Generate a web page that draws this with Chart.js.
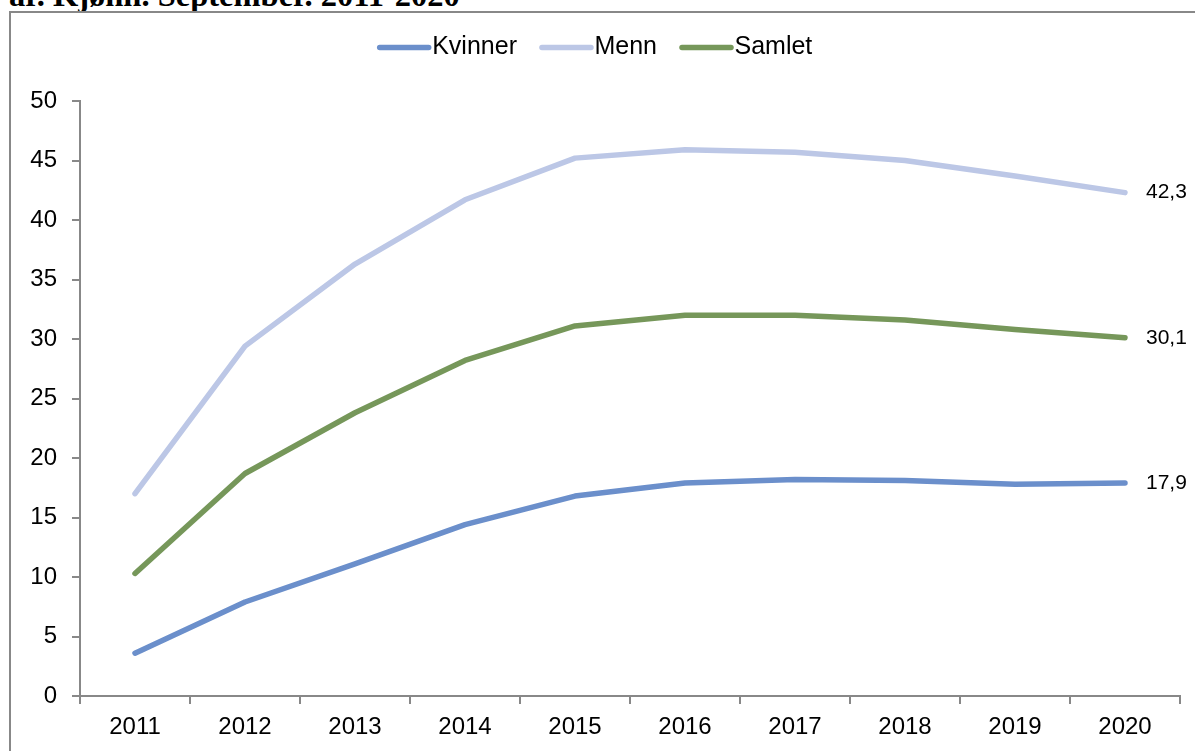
<!DOCTYPE html>
<html>
<head>
<meta charset="utf-8">
<script src="https://cdn.jsdelivr.net/npm/chart.js@4"></script>
<style>
  html, body { margin: 0; padding: 0; background: #fff; overflow: hidden; }
  #title { position: absolute; left: 9px; top: -23px; font: bold 32.5px "Liberation Serif", serif; color: #000; white-space: nowrap; }
  #frame { position: absolute; left: 9px; top: 11px; width: 1300px; height: 900px; border-left: 2px solid #888; border-top: 2px solid #888; }
  #wrap { position: absolute; left: 0; top: 0; width: 1195px; height: 751px; }
</style>
</head>
<body>
<div id="title">ar. Kjønn. September. 2011-2020</div>
<div id="frame"></div>
<div id="wrap"><canvas id="chart"></canvas></div>
<script>
const years = ["2011", "2012", "2013", "2014", "2015", "2016", "2017", "2018", "2019", "2020"];
const kvinner = [3.6, 7.9, 11.1, 14.4, 16.8, 17.9, 18.2, 18.1, 17.8, 17.9];
const menn = [17.0, 29.4, 36.3, 41.7, 45.2, 45.9, 45.7, 45.0, 43.7, 42.3];
const samlet = [10.3, 18.7, 23.8, 28.2, 31.1, 32.0, 32.0, 31.6, 30.8, 30.1];
const yTicks = [0, 5, 10, 15, 20, 25, 30, 35, 40, 45, 50];

const font = "'Liberation Sans', Arial, sans-serif";

// label at the last point of every line
const endLabels = {
  id: "endLabels",
  afterDatasetsDraw(chart) {
    const ctx = chart.ctx;
    ctx.save();
    ctx.font = "21px " + font;
    ctx.fillStyle = "#000";
    ctx.textBaseline = "middle";
    chart.data.datasets.forEach((ds, i) => {
      const pts = chart.getDatasetMeta(i).data;
      const p = pts[pts.length - 1];
      const v = ds.data[ds.data.length - 1];
      ctx.fillText(v.toFixed(1).replace(".", ","), p.x + 21, p.y);
    });
    ctx.restore();
  }
};

// legend keys drawn as short thick lines right next to the text
const legendLines = {
  id: "legendLines",
  afterDraw(chart) {
    const lg = chart.legend;
    const ctx = chart.ctx;
    ctx.save();
    ctx.lineWidth = 5.5;
    ctx.lineCap = "round";
    lg.legendHitBoxes.forEach((box, i) => {
      const y = box.top + box.height / 2;
      ctx.strokeStyle = chart.data.datasets[i].borderColor;
      ctx.beginPath();
      ctx.moveTo(box.left + 2, y);
      ctx.lineTo(box.left + 51, y);
      ctx.stroke();
    });
    ctx.restore();
  }
};

function line(label, data, color) {
  return {
    label: label,
    data: data,
    borderColor: color,
    backgroundColor: color,
    borderWidth: 5.5,
    pointRadius: 0,
    tension: 0,
    borderCapStyle: "round",
    borderJoinStyle: "round"
  };
}

new Chart(document.getElementById("chart"), {
  type: "line",
  data: {
    labels: years,
    datasets: [
      line("Kvinner", kvinner, "#6b8fcb"),
      line("Menn", menn, "#bcc7e6"),
      line("Samlet", samlet, "#76975a")
    ]
  },
  options: {
    responsive: true,
    maintainAspectRatio: false,
    animation: false,
    layout: { padding: { left: 10, right: 15, top: 12, bottom: 10 } },
    plugins: {
      tooltip: { enabled: false },
      // empty title used as a spacer between legend and plot
      title: {
        display: true,
        text: "",
        position: "top",
        weight: 500,
        font: { size: 10, lineHeight: 1 },
        padding: { top: 10, bottom: 11 }
      },
      legend: {
        position: "top",
        labels: {
          color: "#000",
          font: { family: font, size: 25 },
          boxWidth: 42,
          boxHeight: 5,
          padding: 23,
          generateLabels(chart) {
            return chart.data.datasets.map((ds, i) => ({
              text: ds.label,
              fillStyle: "rgba(0,0,0,0)",
              strokeStyle: "rgba(0,0,0,0)",
              lineWidth: 0,
              datasetIndex: i
            }));
          }
        }
      }
    },
    scales: {
      x: {
        offset: true,
        grid: { display: true, drawOnChartArea: false, offset: true, tickLength: 8, color: "#888", lineWidth: 2 },
        border: { color: "#888", width: 2 },
        ticks: { color: "#000", font: { family: font, size: 24 }, padding: 9 },
        afterFit(s) { s.height = 45; }
      },
      y: {
        min: 0,
        max: 50,
        afterBuildTicks(s) { s.ticks = yTicks.map(v => ({ value: v })); },
        grid: { display: true, drawOnChartArea: false, tickLength: 8, color: "#888", lineWidth: 2 },
        border: { color: "#888", width: 2 },
        ticks: { color: "#000", font: { family: font, size: 24 }, padding: 15 },
        afterFit(s) { s.width = 70; }
      }
    }
  },
  plugins: [endLabels, legendLines]
});
</script>
</body>
</html>
